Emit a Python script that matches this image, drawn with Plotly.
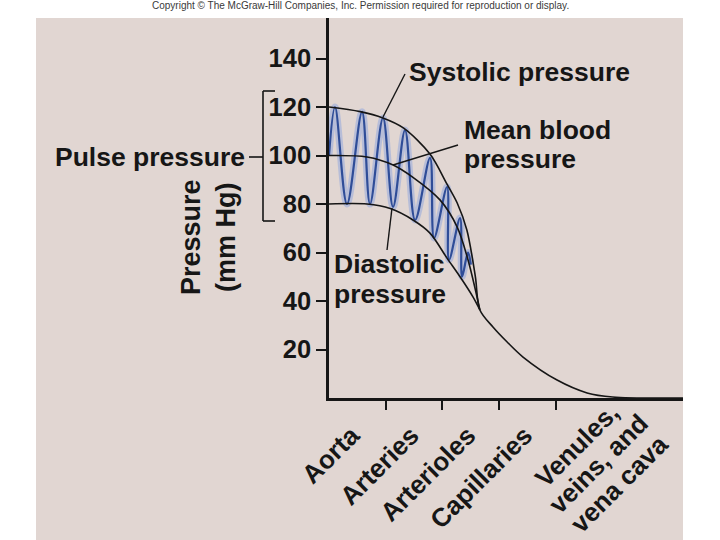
import plotly.graph_objects as go

# ---------------- data ----------------
stages = ["Aorta", "Arteries", "Arterioles", "Capillaries"]
stage_pos = [0.4, 1.45, 2.45, 3.45]
last_stage_lines = ["Venules,", "veins, and", "vena cava"]
boundary_ticks = [1, 2, 3, 4]
pressure_ticks = [20, 40, 60, 80, 100, 120, 140]

systolic_x = [0, 0.55, 0.95, 1.31, 1.78, 2.08, 2.26, 2.43, 2.58, 2.66,
              2.89, 3.14, 3.42, 4.02, 4.55, 5.0, 6.24]
systolic_y = [120, 118.1, 115.5, 111.4, 100.6, 88.2, 80.4, 69.3, 50, 36.3,
              29.3, 23.1, 16.9, 7.4, 2.1, 0.4, 0]

mean_x = [0, 0.67, 1.13, 1.48, 1.96, 2.26, 2.45, 2.66]
mean_y = [100, 99.4, 96.1, 91, 81.6, 70.5, 57, 36.3]

diastolic_x = [0, 0.67, 1.08, 1.48, 1.78, 2.08, 2.31, 2.54, 2.66]
diastolic_y = [80, 80, 78.1, 73.4, 68, 57.7, 50, 41.6, 36.3]

wave_x = [0, 0.106, 0.317, 0.582, 0.723, 0.952, 1.129, 1.34, 1.517,
          1.781, 1.852, 2.081, 2.116, 2.31, 2.346, 2.45, 2.5]
wave_y = [100, 120, 80, 118, 80, 115.5, 78.8, 110.5, 73.4,
          99, 66, 87, 57, 74.2, 50, 60, 55]

# ---------------- layout geometry (window pixels) ----------------
WIN_W, WIN_H = 720, 540
L, R, T, B = 329, 683, 18, 398
X_MAX = 6.24
Y_MAX = 156.7


def px(xp):
    return (xp - L) / (R - L)


def py(yp):
    return (B - yp) / (B - T)


INK = "#161616"
BOLD = dict(family="Liberation Sans, Arial, sans-serif", color=INK, weight="bold")

fig = go.Figure()

# blue pulse wave: halo + line
fig.add_trace(go.Scatter(x=wave_x, y=wave_y, mode="lines",
                         line=dict(color="rgba(150,170,220,0.55)", width=7,
                                   shape="spline", smoothing=1),
                         hoverinfo="skip", showlegend=False))
fig.add_trace(go.Scatter(x=wave_x, y=wave_y, mode="lines",
                         line=dict(color="#2f4d98", width=2.2,
                                   shape="spline", smoothing=1),
                         showlegend=False))

for xs, ys in [(systolic_x, systolic_y), (mean_x, mean_y),
               (diastolic_x, diastolic_y)]:
    fig.add_trace(go.Scatter(x=xs, y=ys, mode="lines",
                             line=dict(color=INK, width=1.6,
                                       shape="spline", smoothing=0.9),
                             showlegend=False))

# invisible trace to activate the label axis
fig.add_trace(go.Scatter(x=[0], y=[0], xaxis="x2", mode="markers",
                         marker=dict(opacity=0), hoverinfo="skip",
                         showlegend=False))

fig.update_layout(
    width=WIN_W, height=WIN_H,
    margin=dict(l=L, r=WIN_W - R, t=T, b=WIN_H - B, pad=0),
    paper_bgcolor="white",
    plot_bgcolor="#e1d6d2",
    xaxis=dict(range=[0, X_MAX], showgrid=False, zeroline=False,
               automargin=False,
               showline=True, linecolor=INK, linewidth=2.5,
               tickvals=boundary_ticks, ticktext=[""] * len(boundary_ticks),
               ticks="outside", ticklen=9, tickwidth=1.8, tickcolor=INK),
    xaxis2=dict(range=[0, X_MAX], overlaying="x", side="bottom",
                automargin=False,
                showgrid=False, zeroline=False, showline=False,
                tickvals=stage_pos, ticktext=stages, ticks="",
                ticklabelstandoff=16,
                tickangle=-45, tickfont=dict(size=26, **BOLD)),
    yaxis=dict(range=[0, Y_MAX], showgrid=False, zeroline=False,
               automargin=False,
               showline=True, linecolor=INK, linewidth=2.5,
               tickvals=pressure_ticks, ticks="outside", ticklen=10,
               tickwidth=1.8, tickcolor=INK,
               tickfont=dict(size=25.5, **BOLD)),
)

# beige panel behind everything
fig.add_shape(type="rect", xref="paper", yref="paper",
              x0=px(36), x1=px(683), y0=py(540), y1=py(18),
              fillcolor="#e1d6d2", line=dict(width=0), layer="below")

# pointer lines
for (x0, y0, x1, y1) in [(405, 74, 383, 117), (458, 145, 393, 165),
                         (392, 208, 387, 250)]:
    fig.add_shape(type="line", xref="paper", yref="paper",
                  x0=px(x0), y0=py(y0), x1=px(x1), y1=py(y1),
                  line=dict(color=INK, width=1.4))

# pulse pressure bracket
for (x0, y0, x1, y1) in [(263, 91, 263, 221), (263, 91, 275, 91),
                         (263, 221, 275, 221), (249, 157, 263, 157)]:
    fig.add_shape(type="line", xref="paper", yref="paper",
                  x0=px(x0), y0=py(y0), x1=px(x1), y1=py(y1),
                  line=dict(color=INK, width=1.6))


def label(text, x, y, size=26.5, xanchor="left", angle=0, align="left"):
    fig.add_annotation(text=text, xref="paper", yref="paper",
                       x=px(x), y=py(y), xanchor=xanchor, yanchor="middle",
                       showarrow=False, textangle=angle, align=align,
                       font=dict(size=size, **BOLD))


label("Systolic pressure", 407, 72)
label("Mean blood", 462, 130)
label("pressure", 462, 159)
label("Diastolic", 332, 264)
label("pressure", 332, 294)
label("Pulse pressure", 247, 157, xanchor="right")
label("Pressure<br>(mm Hg)", 208, 237, size=27, xanchor="center", angle=-90,
      align="center")

# last stage label: three tightly spaced rotated lines
for text, (cx, cy) in zip(last_stage_lines, [(577, 445), (598, 464), (619, 484)]):
    label(text, cx, cy, size=26, xanchor="center", angle=-45, align="center")

fig.add_annotation(
    text="Copyright © The McGraw-Hill Companies, Inc. Permission required for reproduction or display.",
    xref="paper", yref="paper", x=px(360), y=py(6), xanchor="center",
    yanchor="middle", showarrow=False,
    font=dict(size=10, family="Liberation Sans, Arial", color="#3a3a3a"))

fig.write_html(
    "out.html",
    config={"displayModeBar": False},
    post_script="document.body.style.margin='0px';"
                "document.body.style.overflow='hidden';",
)
